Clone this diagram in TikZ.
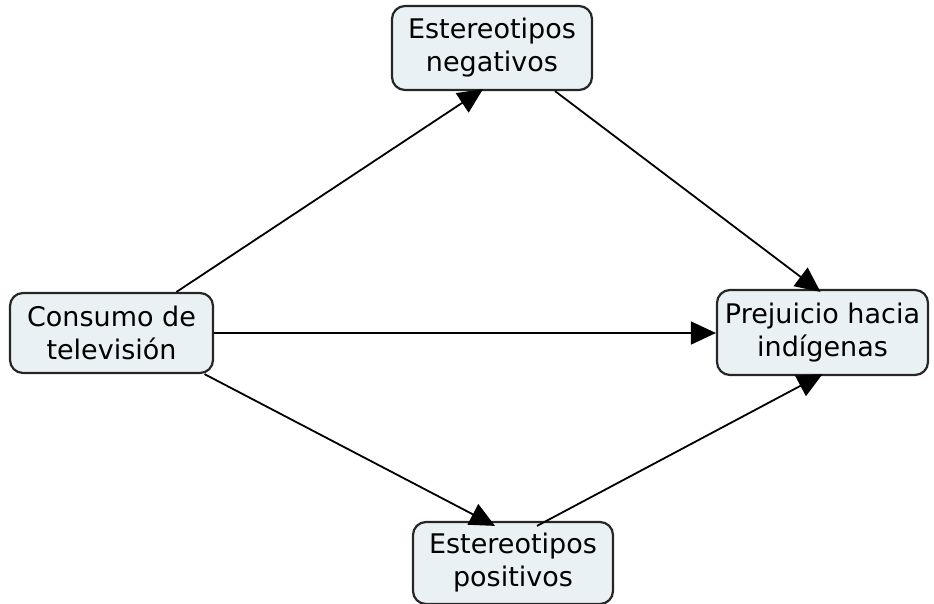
\documentclass[tikz,border=0pt]{standalone}
\usepackage{fontspec}
\setmainfont{DejaVu Sans}
\usetikzlibrary{arrows.meta}
\definecolor{boxfill}{HTML}{EAF1F5}
\definecolor{boxline}{HTML}{262626}
\tikzset{
  conceptbox/.style={draw=boxline, line width=2.2pt, fill=boxfill, rounded corners=13pt,
    align=center, font=\fontsize{27}{33}\selectfont, inner sep=0pt, text=black},
  link/.style={line width=1.8pt, -{Triangle[length=25pt,width=23pt]}}
}
\begin{document}
\begin{tikzpicture}[x=1pt,y=-1pt]
\useasboundingbox (0,0) rectangle (934,603);
\node[conceptbox, minimum width=200pt, minimum height=84pt] (neg) at (492,48) {Estereotipos\\negativos};
\node[conceptbox, minimum width=203pt, minimum height=80pt] (cons) at (111.5,333) {Consumo de\\televisión};
\node[conceptbox, minimum width=211pt, minimum height=85pt] (prej) at (822.5,332.5) {Prejuicio hacia\\indígenas};
\node[conceptbox, minimum width=200pt, minimum height=82pt] (pos) at (513,563) {Estereotipos\\positivos};
\draw[link] ([xshift=65pt]cons.north) -- ([xshift=-9pt,yshift=2pt]neg.south);
\draw[link] ([xshift=63pt]neg.south) -- ([xshift=-2pt,yshift=-3pt]prej.north);
\draw[link] (cons.east) -- (prej.west |- cons.east);
\draw[link] ([xshift=93pt]cons.south) -- ([xshift=-18pt,yshift=-5pt]pos.north);
\draw[link] ([xshift=24pt,yshift=-5pt]pos.north) -- ([yshift=2pt]prej.south);
\end{tikzpicture}
\end{document}
